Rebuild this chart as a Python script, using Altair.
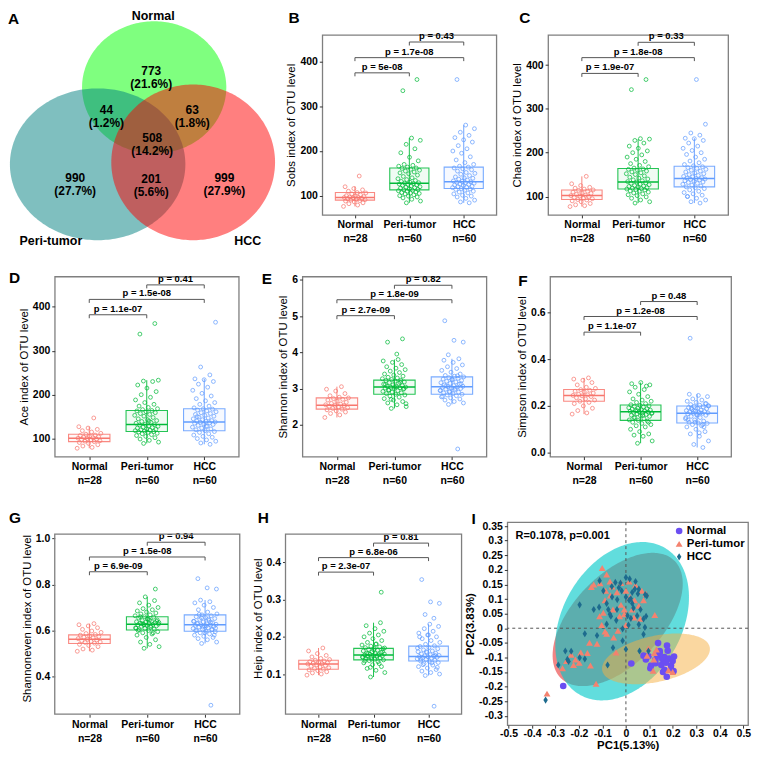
import altair as alt
import numpy as np
import pandas as pd

FONT = "Liberation Sans"
GROUPS = ["Normal", "Peri-tumor", "HCC"]
GROUP_N = ["n=28", "n=60", "n=60"]
BOX_COLORS = ["#F8766D", "#00BA38", "#619CFF"]
FRAME = "#7f7f7f"

# ---------------- Panel A: Venn ----------------
venn_colors = ["#00FF00", "#008080", "#FF0000"]
venn_cx = [151, 93, 191]
venn_cy = [81, 160, 158]
venn_rx = [74, 90, 84]
venn_ry = [68, 78, 80]
venn_counts = [773, 44, 63, 508, 990, 201, 999]
venn_pcts = ["21.6%", "1.2%", "1.8%", "14.2%", "27.7%", "5.6%", "27.9%"]
venn_lx = [148, 102, 190, 149, 70, 148, 223]
venn_ly = [64, 104, 104, 133, 174, 175, 174]
venn_set_lx = [150, 45, 247]
venn_set_ly = [8, 239, 239]

# ---------------- Panels B-H: alpha diversity ----------------
sobs_normal = [76,79,82,84,86,88,89,90,91,92,93,94,95,96,96,97,98,99,100,102,104,106,107,110,113,116,120,144]
sobs_peri = [84,88,92,95,97,99,100,102,104,105,106,107,108,110,111,112,113,114,115,117,118,119,120,122,123,124,125,126,127,128,
             129,130,132,134,136,138,140,143,146,149,151,153,155,157,159,161,162,164,166,168,170,178,186,196,205,215,224,229,335,360]
sobs_hcc = [84,86,90,94,97,99,101,104,106,108,110,112,114,115,116,118,119,120,121,123,124,125,126,128,129,130,131,132,133,135,
            137,139,140,142,145,148,150,152,155,158,160,162,164,166,170,174,180,187,195,200,205,212,220,225,230,235,242,250,258,360]
chao_normal = [77,79,81,84,88,90,92,93,95,96,98,100,101,102,103,105,107,108,110,112,114,115,117,119,121,125,129,146]
chao_peri = [85,88,92,96,99,102,104,106,108,110,112,113,115,116,117,118,119,120,122,123,124,125,127,128,130,131,133,134,136,138,
             140,142,144,147,150,152,154,156,158,160,162,163,165,168,171,175,180,185,190,195,200,204,210,215,222,228,231,232,344,367]
chao_hcc = [85,88,92,96,100,103,106,109,112,115,118,120,122,124,126,128,130,132,133,135,136,138,139,140,141,142,143,145,146,148,
            150,152,154,156,158,160,162,164,166,168,170,173,177,181,185,190,196,200,205,210,215,222,228,232,233,240,245,265,367,100]
ace_normal = [78,80,83,86,89,91,93,94,95,97,98,99,100,101,102,103,104,105,107,108,110,112,115,118,121,124,127,147]
ace_peri = [89,92,96,99,102,105,107,109,111,112,114,115,116,117,118,119,120,121,122,124,125,126,128,129,131,132,133,135,137,139,
            141,143,145,148,151,153,155,157,159,161,163,164,166,168,171,174,178,182,188,194,200,207,215,222,230,231,233,140,338,362]
ace_hcc = [87,90,94,97,100,103,105,108,111,114,116,118,120,122,124,126,128,130,132,133,135,136,137,138,139,140,141,143,145,147,
           149,151,153,155,157,159,161,163,165,167,168,170,174,178,182,186,191,197,203,210,217,224,230,234,236,245,263,365,128,150]
shannon_normal = [2.20,2.27,2.31,2.35,2.38,2.41,2.43,2.45,2.47,2.49,2.51,2.53,2.54,2.55,2.57,2.59,2.62,2.65,2.68,2.70,
                  2.72,2.74,2.76,2.80,2.86,2.93,2.98,3.05]
shannon_peri = [2.45,2.50,2.55,2.60,2.64,2.68,2.72,2.76,2.79,2.82,2.84,2.86,2.88,2.90,2.92,2.94,2.96,2.98,3.00,3.01,
                3.02,3.03,3.04,3.05,3.06,3.08,3.10,3.12,3.14,3.16,3.18,3.20,3.22,3.23,3.25,3.27,3.29,3.31,3.34,3.37,
                3.40,3.44,3.48,3.52,3.56,3.60,3.66,3.72,3.76,3.80,2.95,3.00,3.05,3.11,3.17,2.70,2.58,3.95,4.28,4.37]
shannon_hcc = [1.33,2.56,2.60,2.64,2.68,2.71,2.74,2.77,2.80,2.82,2.84,2.86,2.88,2.90,2.92,2.94,2.96,2.98,3.00,3.02,
               3.03,3.04,3.05,3.06,3.08,3.10,3.12,3.14,3.16,3.18,3.20,3.22,3.24,3.26,3.28,3.30,3.32,3.34,3.36,3.40,
               3.45,3.50,3.55,3.60,3.65,3.72,3.78,3.82,2.90,2.95,3.00,3.07,3.13,3.25,2.78,3.35,3.93,4.28,4.33,4.87]
simpson_normal = [0.165,0.17,0.18,0.19,0.20,0.21,0.215,0.22,0.225,0.23,0.235,0.24,0.243,0.245,0.248,0.25,0.255,0.26,0.263,0.267,
                  0.27,0.275,0.28,0.29,0.30,0.31,0.315,0.32]
simpson_peri = [0.04,0.05,0.07,0.075,0.08,0.09,0.10,0.11,0.115,0.12,0.125,0.13,0.135,0.138,0.14,0.145,0.15,0.155,0.158,0.16,
                0.163,0.166,0.168,0.17,0.172,0.174,0.175,0.177,0.179,0.18,0.182,0.184,0.186,0.188,0.19,0.192,0.195,0.198,0.20,0.203,
                0.205,0.21,0.215,0.22,0.225,0.23,0.24,0.25,0.26,0.27,0.28,0.29,0.30,0.295,0.285,0.18,0.17,0.16,0.15,0.13]
simpson_hcc = [0.022,0.035,0.05,0.07,0.08,0.09,0.10,0.11,0.115,0.12,0.125,0.127,0.13,0.135,0.14,0.145,0.15,0.155,0.16,0.163,
               0.166,0.168,0.169,0.17,0.172,0.174,0.176,0.178,0.18,0.182,0.185,0.188,0.19,0.193,0.196,0.198,0.20,0.203,0.206,0.21,
               0.215,0.22,0.225,0.23,0.24,0.245,0.25,0.11,0.13,0.15,0.17,0.19,0.21,0.16,0.14,0.12,0.18,0.20,0.085,0.49]
even_normal = [0.51,0.515,0.52,0.53,0.535,0.54,0.545,0.548,0.55,0.553,0.556,0.559,0.562,0.565,0.568,0.571,0.574,0.577,0.58,0.583,
               0.587,0.592,0.598,0.605,0.612,0.62,0.625,0.63]
even_peri = [0.523,0.53,0.54,0.55,0.56,0.57,0.58,0.585,0.59,0.595,0.60,0.603,0.606,0.609,0.612,0.615,0.618,0.62,0.622,0.624,
             0.626,0.627,0.628,0.63,0.632,0.634,0.636,0.638,0.64,0.643,0.646,0.65,0.654,0.658,0.66,0.664,0.668,0.672,0.676,0.68,
             0.685,0.69,0.695,0.70,0.71,0.72,0.73,0.746,0.61,0.62,0.63,0.64,0.65,0.60,0.59,0.625,0.635,0.645,0.66,0.78]
even_hcc = [0.276,0.544,0.55,0.56,0.565,0.57,0.575,0.58,0.585,0.59,0.595,0.597,0.60,0.603,0.606,0.609,0.612,0.615,0.618,0.62,
            0.622,0.624,0.625,0.627,0.629,0.631,0.634,0.637,0.64,0.644,0.648,0.652,0.656,0.66,0.664,0.668,0.672,0.68,0.69,0.70,
            0.71,0.72,0.725,0.732,0.61,0.62,0.63,0.605,0.615,0.64,0.65,0.67,0.58,0.59,0.60,0.635,0.655,0.78,0.785,0.825]
heip_normal = [0.097,0.10,0.103,0.106,0.109,0.111,0.113,0.115,0.117,0.119,0.121,0.123,0.125,0.127,0.128,0.129,0.13,0.131,0.133,0.135,
               0.137,0.139,0.142,0.146,0.15,0.155,0.162,0.17]
heip_peri = [0.092,0.104,0.11,0.115,0.12,0.125,0.13,0.133,0.136,0.138,0.14,0.142,0.144,0.145,0.146,0.147,0.148,0.149,0.15,0.151,
             0.152,0.153,0.154,0.155,0.156,0.158,0.16,0.162,0.164,0.166,0.168,0.169,0.171,0.173,0.175,0.178,0.181,0.185,0.19,0.195,
             0.2,0.205,0.21,0.215,0.222,0.23,0.238,0.14,0.145,0.15,0.155,0.16,0.165,0.135,0.128,0.118,0.17,0.18,0.148,0.32]
heip_hcc = [0.0135,0.096,0.1,0.104,0.108,0.112,0.116,0.12,0.124,0.128,0.131,0.133,0.135,0.137,0.139,0.141,0.143,0.144,0.145,0.146,
            0.147,0.148,0.149,0.15,0.152,0.154,0.156,0.158,0.16,0.162,0.165,0.168,0.171,0.174,0.176,0.18,0.185,0.19,0.195,0.2,
            0.205,0.21,0.215,0.222,0.228,0.234,0.14,0.15,0.16,0.17,0.13,0.125,0.118,0.205,0.2,0.25,0.26,0.29,0.294,0.354]

# box stats per group: [lower whisker, q1, median, q3, upper whisker]
sobs_stats = [[76, 90, 96, 107, 121], [84, 113, 128, 162, 229], [84, 116, 131, 164, 258]]
chao_stats = [[77, 93, 102, 115, 146], [85, 117, 133, 164, 231], [85, 122, 141, 169, 233]]
ace_stats = [[78, 93, 101, 110, 127], [89, 116, 132, 164, 233], [87, 118, 138, 168, 236]]
shannon_stats = [[2.20, 2.43, 2.54, 2.74, 3.05], [2.45, 2.84, 3.04, 3.23, 3.80], [2.56, 2.84, 3.05, 3.32, 3.82]]
simpson_stats = [[0.165, 0.22, 0.245, 0.27, 0.32], [0.04, 0.138, 0.175, 0.204, 0.30], [0.022, 0.127, 0.169, 0.20, 0.25]]
even_stats = [[0.51, 0.544, 0.562, 0.581, 0.63], [0.523, 0.602, 0.627, 0.66, 0.746], [0.544, 0.597, 0.625, 0.668, 0.732]]
heip_stats = [[0.097, 0.113, 0.127, 0.137, 0.17], [0.092, 0.138, 0.151, 0.169, 0.238], [0.096, 0.135, 0.147, 0.175, 0.234]]

# significance brackets: pairs (Normal-Peri, Normal-HCC, Peri-HCC)
bracket_pairs = [(1, 2), (1, 3), (2, 3)]
sobs_br = [375, 409, 444]
sobs_p = ["p = 5e-08", "p = 1.7e-08", "p = 0.43"]
chao_br = [381, 417, 452]
chao_p = ["p = 1.9e-07", "p = 1.8e-08", "p = 0.33"]
ace_br = [382, 417, 450]
ace_p = ["p = 1.1e-07", "p = 1.5e-08", "p = 0.41"]
shannon_br = [5.01, 5.45, 5.85]
shannon_p = ["p = 2.7e-09", "p = 1.8e-09", "p = 0.82"]
simpson_br = [0.516, 0.583, 0.647]
simpson_p = ["p = 1.1e-07", "p = 1.2e-08", "p = 0.48"]
even_br = [0.855, 0.919, 0.983]
even_p = ["p = 6.9e-09", "p = 1.5e-08", "p = 0.94"]
heip_br = [0.374, 0.413, 0.452]
heip_p = ["p = 2.3e-07", "p = 6.8e-06", "p = 0.81"]

# ---------------- Panel I: PCoA ----------------
pca_normal_x = [0.137,0.175,0.144,0.178,0.134,0.164,0.155,0.185,0.205,0.096,0.085,0.107,0.126,0.151,0.192,0.164,0.158,0.174,
                0.192,0.203,0.023,0.104,-0.267,0.144,0.171,0.075,0.199,0.126]
pca_normal_y = [-0.051,-0.059,-0.078,-0.077,-0.094,-0.099,-0.105,-0.104,-0.097,-0.096,-0.107,-0.128,-0.120,-0.126,-0.128,-0.142,
                -0.150,-0.166,-0.139,-0.147,-0.121,-0.137,-0.198,-0.085,-0.118,-0.094,-0.112,-0.107]
pca_peri_x = [-0.101,-0.082,-0.147,-0.110,-0.059,-0.021,-0.086,-0.066,-0.089,0.014,0.041,0.068,0.085,0.075,0.055,0.027,-0.007,
              -0.027,0.034,0.062,0.123,-0.103,-0.089,-0.034,-0.082,-0.155,-0.192,-0.233,-0.253,-0.223,-0.270,-0.151,-0.127,
              -0.336,0.096,0.121,0.130,0.119,0.116,0.181,0.199,0.090,-0.137,-0.068,-0.038,0.000,0.018,0.037,-0.021,-0.055,
              -0.096,-0.112,0.000,-0.052,-0.123,-0.199,-0.164,-0.007,-0.042,-0.215]
pca_peri_y = [0.206,0.184,0.141,0.154,0.143,0.155,0.128,0.112,0.096,0.160,0.147,0.128,0.118,0.096,0.077,0.064,0.064,0.041,
              0.037,0.032,0.045,0.011,-0.011,-0.009,-0.019,-0.050,-0.083,-0.091,-0.112,-0.126,-0.137,-0.128,-0.190,-0.224,
              -0.069,-0.085,-0.073,-0.107,-0.146,-0.144,-0.150,-0.094,0.150,0.160,0.123,0.128,0.107,0.096,0.080,0.064,0.053,
              0.041,0.011,-0.032,-0.053,-0.118,-0.085,0.048,-0.083,-0.107]
pca_hcc_x = [0.000,0.016,-0.045,-0.023,-0.112,-0.060,0.038,0.055,0.027,-0.018,0.051,0.000,0.021,0.082,0.089,-0.037,0.014,
             -0.059,-0.082,-0.114,-0.197,0.062,0.032,-0.038,-0.075,0.007,0.021,-0.068,-0.064,0.048,0.086,0.055,0.011,-0.041,
             -0.082,-0.123,-0.175,0.081,0.075,-0.014,-0.055,0.000,0.058,0.096,-0.258,-0.233,-0.249,-0.244,-0.197,-0.175,
             -0.288,-0.078,-0.342,0.041,-0.030,-0.096,0.027,-0.014,0.075,-0.137]
pca_hcc_y = [0.174,0.169,0.157,0.155,0.163,0.143,0.134,0.134,0.123,0.128,0.118,0.107,0.101,0.115,0.111,0.098,0.096,0.107,
             0.085,0.072,0.080,0.064,0.069,0.064,0.064,0.043,0.034,0.048,0.041,0.043,0.041,0.013,0.011,0.027,0.014,-0.025,
             -0.019,0.003,-0.021,-0.043,-0.067,-0.072,-0.078,-0.078,-0.078,-0.079,-0.107,-0.114,-0.101,-0.105,-0.126,-0.126,
             -0.246,0.160,0.139,0.128,0.085,-0.002,0.032,0.064]
PCA_COLORS = ["#6B4EF2", "#F4826F", "#1D6B8E"]
# confidence ellipses: centre (data units), semi-axes (px), tilt (deg)
ell_cx = [-0.035, -0.016, 0.128]
ell_cy = [0.030, 0.024, -0.105]
ell_a = [86, 90, 57]
ell_b = [47, 62, 24.5]
ell_theta = [48, 62, 13]
ell_colors = ["#F07070", "#00C8C8", "#F5B041"]
ell_opacity = [0.85, 0.62, 0.5]
pca_stat_text = "R=0.1078, p=0.001"
pca_stat_x = -0.47
pca_stat_y = 0.317
pca_xticks = [-0.5, -0.4, -0.3, -0.2, -0.1, 0, 0.1, 0.2, 0.3, 0.4, 0.5]
pca_yticks = [0.35, 0.3, 0.25, 0.2, 0.15, 0.1, 0.05, 0, -0.05, -0.1, -0.15, -0.2, -0.25, -0.3]


def title(letter, dx, offset):
    return alt.TitleParams(text=letter, anchor="start", frame="group", dx=dx, offset=offset,
                           fontSize=15.5, fontWeight="bold", font=FONT, color="black")


def band(cx, cy, a, b, theta_deg, sx, sy, n=120):
    t = np.radians(theta_deg)
    c, s = np.cos(t), np.sin(t)
    m11 = c * c / a ** 2 + s * s / b ** 2
    m22 = s * s / a ** 2 + c * c / b ** 2
    m12 = c * s * (1 / a ** 2 - 1 / b ** 2)
    xmax = np.sqrt(m22 / (m11 * m22 - m12 ** 2))
    X = -xmax * np.cos(np.linspace(0, np.pi, n))
    disc = np.clip(m12 ** 2 * X ** 2 - m22 * (m11 * X ** 2 - 1), 0, None)
    y1 = (-m12 * X - np.sqrt(disc)) / m22
    y2 = (-m12 * X + np.sqrt(disc)) / m22
    return pd.DataFrame({"x": cx + X / sx, "ylo": cy + y1 / sy, "yhi": cy + y2 / sy})


# ---------------- Venn chart ----------------
def venn_panel(width, height):
    x0 = 49
    vx = alt.Scale(domain=[x0, x0 + width / 0.98], nice=False, zero=False)
    vy = alt.Scale(domain=[27, 212], reverse=True, nice=False, zero=False)
    layers = []
    for i in range(3):
        df = band(venn_cx[i], venn_cy[i], venn_rx[i], venn_ry[i], 0, 1, 1)
        layers.append(alt.Chart(df).mark_area(color=venn_colors[i], opacity=0.5).encode(
            x=alt.X("x:Q", scale=vx, axis=None), y=alt.Y("ylo:Q", scale=vy, axis=None), y2="yhi:Q"))
    lab = pd.DataFrame({"x": venn_lx, "y": venn_ly,
                        "t": [f"{c}\n({p})" for c, p in zip(venn_counts, venn_pcts)]})
    layers.append(alt.Chart(lab).mark_text(lineBreak="\n", fontSize=12, fontWeight="bold", font=FONT,
                                           lineHeight=13.5, color="black").encode(
        x=alt.X("x:Q", scale=vx, axis=None), y=alt.Y("y:Q", scale=vy, axis=None), text="t:N"))
    sets = pd.DataFrame({"x": venn_set_lx, "y": venn_set_ly, "t": GROUPS})
    layers.append(alt.Chart(sets).mark_text(fontSize=12.5, fontWeight="bold", font=FONT, color="black").encode(
        x=alt.X("x:Q", scale=vx, axis=None), y=alt.Y("y:Q", scale=vy, axis=None), text="t:N"))
    return alt.layer(*layers).properties(width=width, height=height, title=title("A", -47, -17),
                                         view=alt.ViewBackground(strokeOpacity=0))


# ---------------- Box panels ----------------
label_expr = " : ".join(
    [f"datum.value == {i + 1} ? ['{g}', '{n}']" for i, (g, n) in enumerate(zip(GROUPS[:-1], GROUP_N[:-1]))]
) + f" : ['{GROUPS[-1]}', '{GROUP_N[-1]}']"


def box_panel(letter, ytitle, vals, stats, domain, ticks, fmt, br_y, br_p, width, height, tdx, toff, ext=0):
    g_l, v_l, x_l = [], [], []
    for gi, g in enumerate(GROUPS):
        for i, v in enumerate(vals[gi]):
            frac = (i * 0.6180339887 + 0.37 * gi) % 1.0
            g_l.append(g)
            v_l.append(v)
            x_l.append(gi + 1 + (frac - 0.5) * 0.42)
    pts = pd.DataFrame({"group": g_l, "value": v_l, "xj": x_l})
    st = pd.DataFrame({"group": GROUPS, "pos": [1, 2, 3],
                       "lo": [s[0] for s in stats], "q1": [s[1] for s in stats], "med": [s[2] for s in stats],
                       "q3": [s[3] for s in stats], "hi": [s[4] for s in stats]})
    st["x1"] = st["pos"] - 0.36
    st["x2"] = st["pos"] + 0.36
    per_px = (domain[1] - domain[0]) / height
    tick = 3.5 * per_px
    seg = []
    for (a, b), h in zip(bracket_pairs, br_y):
        seg.append((a, b, h, h))
        seg.append((a, a, h, h - tick))
        seg.append((b, b, h, h - tick))
    segs = pd.DataFrame(seg, columns=["xa", "xb", "ya", "yb"])
    txt = pd.DataFrame({"x": [(a + b) / 2 for a, b in bracket_pairs], "y": br_y, "t": br_p})

    xdom = [0.4, 3.6]
    xs = alt.Scale(domain=xdom, nice=False, zero=False)
    ys = alt.Scale(domain=[domain[0], domain[1] + ext * per_px], nice=False, zero=False)
    xa = alt.Axis(values=[1, 2, 3], labelExpr=label_expr, title=None, grid=False, domain=False, tickSize=3,
                  tickColor="#333333", labelFont=FONT, labelFontSize=10.5, labelFontWeight="bold",
                  labelColor="black", labelLineHeight=14, labelPadding=2, labelFlush=False, labelOverlap=False)
    ya = alt.Axis(values=ticks, format=fmt, title=ytitle, grid=False, domain=False, tickSize=3,
                  tickColor="#333333", labelFont=FONT, labelFontSize=10.5, labelFontWeight="bold",
                  labelColor="black", labelPadding=2, titleFont=FONT, titleFontSize=11.5,
                  titleFontWeight="normal", titleColor="black", titlePadding=3, labelOverlap=False)
    sc = alt.Scale(domain=GROUPS, range=BOX_COLORS)
    col = alt.Color("group:N", scale=sc, legend=None)

    whisk = alt.Chart(st).mark_rule(strokeWidth=1, opacity=0.9).encode(
        x=alt.X("pos:Q", scale=xs, axis=xa), y=alt.Y("lo:Q", scale=ys, axis=ya), y2="hi:Q", color=col)
    box = alt.Chart(st).mark_rect(fillOpacity=0.06, strokeWidth=1.1, strokeOpacity=0.85).encode(
        x=alt.X("x1:Q", scale=xs, axis=xa), x2="x2:Q", y=alt.Y("q1:Q", scale=ys, axis=ya), y2="q3:Q",
        fill=alt.Fill("group:N", scale=sc, legend=None),
        stroke=alt.Stroke("group:N", scale=sc, legend=None))
    med = alt.Chart(st).mark_rule(strokeWidth=1.5).encode(
        x=alt.X("x1:Q", scale=xs, axis=xa), x2="x2:Q", y=alt.Y("med:Q", scale=ys, axis=ya), color=col)
    points = alt.Chart(pts).mark_point(shape="circle", filled=False, size=15, strokeWidth=0.85, opacity=0.85).encode(
        x=alt.X("xj:Q", scale=xs, axis=xa), y=alt.Y("value:Q", scale=ys, axis=ya), color=col)
    br = alt.Chart(segs).mark_rule(color="#555555", strokeWidth=1).encode(
        x=alt.X("xa:Q", scale=xs, axis=xa), x2="xb:Q", y=alt.Y("ya:Q", scale=ys, axis=ya), y2="yb:Q")
    tx = alt.Chart(txt).mark_text(font=FONT, fontSize=9.5, fontWeight="bold", baseline="bottom", dy=-1,
                                  color="black").encode(
        x=alt.X("x:Q", scale=xs, axis=xa), y=alt.Y("y:Q", scale=ys, axis=ya), text="t:N")
    layers = [whisk, box, med, points, br, tx]
    props = dict(width=width, height=height + ext, title=title(letter, tdx, toff))
    if ext > 0:
        fr = pd.DataFrame({"x1": [xdom[0]], "x2": [xdom[1]], "y1": [domain[0]], "y2": [domain[1]]})
        layers.append(alt.Chart(fr).mark_rect(fillOpacity=0, stroke=FRAME, strokeWidth=1.3).encode(
            x=alt.X("x1:Q", scale=xs, axis=xa), x2="x2:Q", y=alt.Y("y1:Q", scale=ys, axis=ya), y2="y2:Q"))
        props["view"] = alt.ViewBackground(strokeOpacity=0)
    return alt.layer(*layers).properties(**props)


# ---------------- PCoA panel ----------------
def pca_panel(width, height, tdx, toff):
    xs = alt.Scale(domain=[-0.505, 0.52], nice=False, zero=False)
    ys = alt.Scale(domain=[-0.332, 0.363], nice=False, zero=False)
    xa = alt.Axis(values=pca_xticks, labelExpr="'' + datum.value", title="PC1(5.13%)", grid=False, domain=False,
                  tickSize=3, tickColor="#333333", labelFont=FONT, labelFontSize=10.5, labelFontWeight="bold",
                  labelColor="black", labelPadding=0, titleFont=FONT, titleFontSize=11.5, titleFontWeight="bold",
                  titleColor="black", titlePadding=1, labelFlush=False, labelOverlap=False)
    ya = alt.Axis(values=pca_yticks, labelExpr="'' + datum.value", title="PC2(3.83%)", grid=False, domain=False,
                  tickSize=3, tickColor="#333333", labelFont=FONT, labelFontSize=10.5, labelFontWeight="bold",
                  labelColor="black", labelPadding=2, titleFont=FONT, titleFontSize=11.5, titleFontWeight="bold",
                  titleColor="black", titlePadding=3, labelFlush=False, labelOverlap=False)
    layers = []
    for i in range(3):
        df = band(ell_cx[i], ell_cy[i], ell_a[i], ell_b[i], ell_theta[i], 243.0, 312.0)
        layers.append(alt.Chart(df).mark_area(color=ell_colors[i], opacity=ell_opacity[i]).encode(
            x=alt.X("x:Q", scale=xs, axis=xa), y=alt.Y("ylo:Q", scale=ys, axis=ya), y2="yhi:Q"))
    layers.append(alt.Chart(pd.DataFrame({"v": [0]})).mark_rule(color="#555555", strokeDash=[3, 3], strokeWidth=1)
                  .encode(x=alt.X("v:Q", scale=xs, axis=xa)))
    layers.append(alt.Chart(pd.DataFrame({"v": [0]})).mark_rule(color="#555555", strokeDash=[3, 3], strokeWidth=1)
                  .encode(y=alt.Y("v:Q", scale=ys, axis=ya)))
    pts = pd.DataFrame({
        "sample": ["Normal"] * len(pca_normal_x) + ["Peri-tumor"] * len(pca_peri_x) + ["HCC"] * len(pca_hcc_x),
        "x": pca_normal_x + pca_peri_x + pca_hcc_x,
        "y": pca_normal_y + pca_peri_y + pca_hcc_y})
    diamond = "M0,-1L0.62,0L0,1L-0.62,0Z"
    leg = alt.Legend(title=None, orient="top-right", offset=3, labelFont=FONT, labelFontSize=11.5,
                     labelFontWeight="bold", labelColor="black", symbolSize=70, rowPadding=0, labelOffset=2,
                     padding=0, symbolStrokeWidth=0)
    layers.append(alt.Chart(pts).mark_point(filled=True, opacity=1).encode(
        x=alt.X("x:Q", scale=xs, axis=xa), y=alt.Y("y:Q", scale=ys, axis=ya),
        color=alt.Color("sample:N", scale=alt.Scale(domain=GROUPS, range=PCA_COLORS), legend=leg),
        shape=alt.Shape("sample:N", scale=alt.Scale(domain=GROUPS, range=["circle", "triangle-up", diamond]),
                        legend=leg),
        size=alt.Size("sample:N", scale=alt.Scale(domain=GROUPS, range=[44, 52, 95]), legend=None)))
    layers.append(alt.Chart(pd.DataFrame({"x": [pca_stat_x], "y": [pca_stat_y], "t": [pca_stat_text]}))
                  .mark_text(align="left", baseline="middle", font=FONT, fontSize=11, fontWeight="bold",
                             color="black")
                  .encode(x=alt.X("x:Q", scale=xs, axis=xa), y=alt.Y("y:Q", scale=ys, axis=ya), text="t:N"))
    return alt.layer(*layers).properties(width=width, height=height, title=title("I", tdx, toff))


RES = dict(color="independent", shape="independent", size="independent", fill="independent",
           stroke="independent")

A = venn_panel(217, 181)
B = box_panel("B", "Sobs index of OTU level", [sobs_normal, sobs_peri, sobs_hcc], sobs_stats, [57, 460],
              [100, 200, 300, 400], "d", sobs_br, sobs_p, 175, 181, -34, 5)
C = box_panel("C", "Chao index of OTU level", [chao_normal, chao_peri, chao_hcc], chao_stats, [58, 469],
              [100, 200, 300, 400], "d", chao_br, chao_p, 181, 181, -29, 5)
D = box_panel("D", "Ace index of OTU level", [ace_normal, ace_peri, ace_hcc], ace_stats, [59, 469],
              [100, 200, 300, 400], "d", ace_br, ace_p, 185, 181, -46, -13)
E = box_panel("E", "Shannon index of OTU level", [shannon_normal, shannon_peri, shannon_hcc], shannon_stats,
              [1.12, 6.09], [2, 3, 4, 5, 6], "d", shannon_br, shannon_p, 185, 181, -41, -13)
F = box_panel("F", "Simpson index of OTU level", [simpson_normal, simpson_peri, simpson_hcc], simpson_stats,
              [-0.017, 0.754], [0.0, 0.2, 0.4, 0.6], ".1f", simpson_br, simpson_p, 182, 181, -32, -13)
G = box_panel("G", "Shannoneven index of OTU level", [even_normal, even_peri, even_hcc], even_stats,
              [0.237, 1.018], [0.4, 0.6, 0.8, 1.0], ".1f", even_br, even_p, 186, 181, -46, -4, ext=12)
H = box_panel("H", "Heip index of OTU level", [heip_normal, heip_peri, heip_hcc], heip_stats,
              [-0.008, 0.476], [0.1, 0.2, 0.3, 0.4], ".1f", heip_br, heip_p, 177, 181, -28, -4, ext=12)
I = pca_panel(242, 204, -36, -6)

row1 = alt.hconcat(A, B, C, spacing=52, bounds="flush").resolve_scale(**RES)
row2 = alt.hconcat(D, E, F, spacing=64, bounds="flush").resolve_scale(**RES)
row3 = alt.hconcat(G, H, I, spacing=46, bounds="flush").resolve_scale(**RES)

chart = (alt.vconcat(row1, row2, row3, spacing=23)
         .resolve_scale(**RES)
         .properties(padding=0)
         .configure(font=FONT)
         .configure_view(stroke=FRAME, strokeWidth=1.3))

chart.save("out.html", embed_options={"renderer": "svg", "actions": False})
